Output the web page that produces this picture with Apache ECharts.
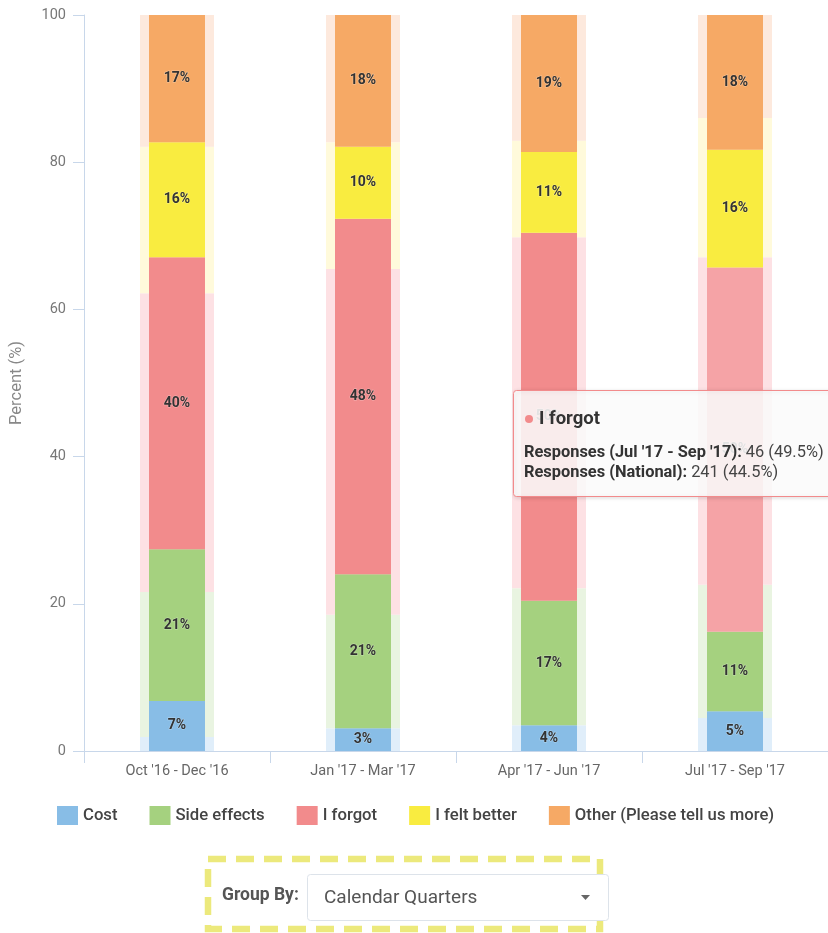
<!DOCTYPE html>
<html>
<head>
<meta charset="utf-8">
<script src="https://cdn.jsdelivr.net/npm/echarts@6/dist/echarts.min.js"></script>
<style>
html,body{margin:0;padding:0;background:#fff;}
#main{width:828px;height:933px;}
</style>
</head>
<body>
<div id="main"></div>
<script>
// ---- data ----
const categories = ["Oct '16 - Dec '16", "Jan '17 - Mar '17", "Apr '17 - Jun '17", "Jul '17 - Sep '17"];
const seriesNames = ['Cost', 'Side effects', 'I forgot', 'I felt better', 'Other (Please tell us more)'];
// period responses (%)
const cost = [6.8, 3.1, 3.5, 5.4];
const sideEffects = [20.6, 20.9, 16.9, 10.8];
const iForgot = [39.7, 48.3, 50.0, 49.5];
const feltBetter = [15.6, 9.8, 11.0, 16.0];
const other = [17.3, 17.9, 18.6, 18.3];
// national responses (%)
const natCost = [1.9, 3.1, 3.5, 4.5];
const natSide = [19.7, 15.4, 18.6, 18.1];
const natForgot = [40.6, 47.0, 47.7, 44.5];
const natFelt = [19.9, 17.2, 13.1, 18.9];
const natOther = [17.9, 17.3, 17.1, 14.0];
const yTicks = [0, 20, 40, 60, 80, 100];
// tooltip content
const tipTitle = 'I forgot';
const tipLine1Label = "Responses (Jul '17 - Sep '17):";
const tipLine1Value = ' 46 (49.5%)';
const tipLine2Label = 'Responses (National):';
const tipLine2Value = ' 241 (44.5%)';
const hoverIndex = 3;

const colors = ['#88bde6', '#a5d17f', '#f28b8c', '#f9ec40', '#f6a965'];
const lightColors = ['#e0eefa', '#e9f4e1', '#fde1e4', '#fffadb', '#fde9dd'];
const hoverRed = '#f5a3a6';

const fgData = [cost, sideEffects, iForgot, feltBetter, other];
const bgData = [natCost, natSide, natForgot, natFelt, natOther];

const series = [];
bgData.forEach((arr, i) => {
  series.push({
    name: seriesNames[i] + ' (National)',
    type: 'bar',
    stack: 'national',
    xAxisIndex: 0,
    barWidth: 74,
    data: arr,
    itemStyle: { color: lightColors[i] },
    emphasis: { disabled: true },
    silent: true,
    z: 1
  });
});
fgData.forEach((arr, i) => {
  series.push({
    name: seriesNames[i],
    type: 'bar',
    stack: 'period',
    xAxisIndex: 1,
    barWidth: 56,
    data: arr.map((v, j) => (i === 2 && j === hoverIndex) ? { value: v, itemStyle: { color: hoverRed } } : v),
    itemStyle: { color: colors[i] },
    emphasis: { disabled: true },
    label: {
      show: true,
      position: 'inside',
      formatter: p => Math.round(p.value) + '%',
      fontFamily: 'Roboto',
      fontSize: 14,
      fontWeight: 'bold',
      color: '#333',
      textBorderColor: 'rgba(255,255,255,0.35)',
      textBorderWidth: 1
    },
    z: 2
  });
});

const chart = echarts.init(document.getElementById('main'), null, { renderer: 'canvas' });
const axisColor = '#c8d7ea';
const Z = 100;
const option = {
  animation: false,
  textStyle: { fontFamily: 'Roboto' },
  grid: { left: 81, right: -1, top: 15, bottom: 182, containLabel: false },
  xAxis: [{
    type: 'category',
    data: categories,
    axisLine: { show: true, lineStyle: { color: axisColor } },
    axisTick: { show: true, length: 12, lineStyle: { color: axisColor } },
    axisLabel: { color: '#666', fontSize: 14.5, margin: 13, fontFamily: 'Roboto' },
    splitLine: { show: false }
  }, {
    type: 'category',
    data: categories,
    show: false
  }],
  yAxis: {
    type: 'value',
    min: 0,
    max: 100,
    interval: 20,
    name: 'Percent (%)',
    nameLocation: 'middle',
    nameGap: 59,
    nameTextStyle: { color: '#888', fontSize: 16.5, fontFamily: 'Roboto' },
    axisLine: { show: true, lineStyle: { color: axisColor } },
    axisTick: { show: true, length: 11, lineStyle: { color: axisColor } },
    axisLabel: { color: '#777', fontSize: 14.5, margin: 18, fontFamily: 'Roboto',
      formatter: v => yTicks.indexOf(v) >= 0 ? String(v) : '' },
    splitLine: { show: false }
  },
  legend: {
    data: seriesNames,
    top: 806,
    left: 57,
    padding: 0,
    icon: 'rect',
    itemWidth: 21,
    itemHeight: 19,
    itemGap: 32,
    textStyle: { color: '#444', fontSize: 16.7, fontWeight: 500, fontFamily: 'Roboto' },
    selectedMode: false
  },
  series: series,
  graphic: [
    // tooltip
    { type: 'rect', z: Z, shape: { x: 513.5, y: 390.5, width: 330, height: 106, r: 3 },
      style: { fill: 'rgba(255,255,255,0.86)', stroke: '#f28b8c', lineWidth: 1,
        shadowBlur: 4, shadowColor: 'rgba(0,0,0,0.15)', shadowOffsetX: 1, shadowOffsetY: 1 } },
    { type: 'circle', z: Z, shape: { cx: 529, cy: 419, r: 4 }, style: { fill: '#f28b8c' } },
    { type: 'text', z: Z, x: 539, y: 419, style: { text: tipTitle, font: 'bold 18.5px Roboto', fill: '#333', verticalAlign: 'middle' } },
    { type: 'text', z: Z, x: 524, y: 453, style: {
        text: '{b|' + tipLine1Label + '}{n|' + tipLine1Value + '}', verticalAlign: 'middle',
        rich: { b: { font: 'bold 16.4px Roboto', fill: '#333' }, n: { font: '16.4px Roboto', fill: '#444' } } } },
    { type: 'text', z: Z, x: 524, y: 473, style: {
        text: '{b|' + tipLine2Label + '}{n|' + tipLine2Value + '}', verticalAlign: 'middle',
        rich: { b: { font: 'bold 16.4px Roboto', fill: '#333' }, n: { font: '16.4px Roboto', fill: '#444' } } } },
    // group-by control
    { type: 'rect', z: Z, shape: { x: 208, y: 859, width: 392, height: 70 },
      style: { fill: 'none', stroke: '#ece97c', lineWidth: 6.5, lineDash: [18, 10] } },
    { type: 'text', z: Z, x: 222, y: 896, style: { text: 'Group By:', font: 'bold 17.5px Roboto', fill: '#555', verticalAlign: 'middle' } },
    { type: 'rect', z: Z, shape: { x: 307.5, y: 874.5, width: 301, height: 46, r: 3 },
      style: { fill: '#fff', stroke: '#dde3ea', lineWidth: 1 } },
    { type: 'text', z: Z, x: 324, y: 898, style: { text: 'Calendar Quarters', font: '19px Roboto', fill: '#555', verticalAlign: 'middle' } },
    { type: 'polygon', z: Z, shape: { points: [[581, 895], [590, 895], [585.5, 900]] }, style: { fill: '#666' } }
  ]
};
chart.setOption(option);
</script>
</body>
</html>
